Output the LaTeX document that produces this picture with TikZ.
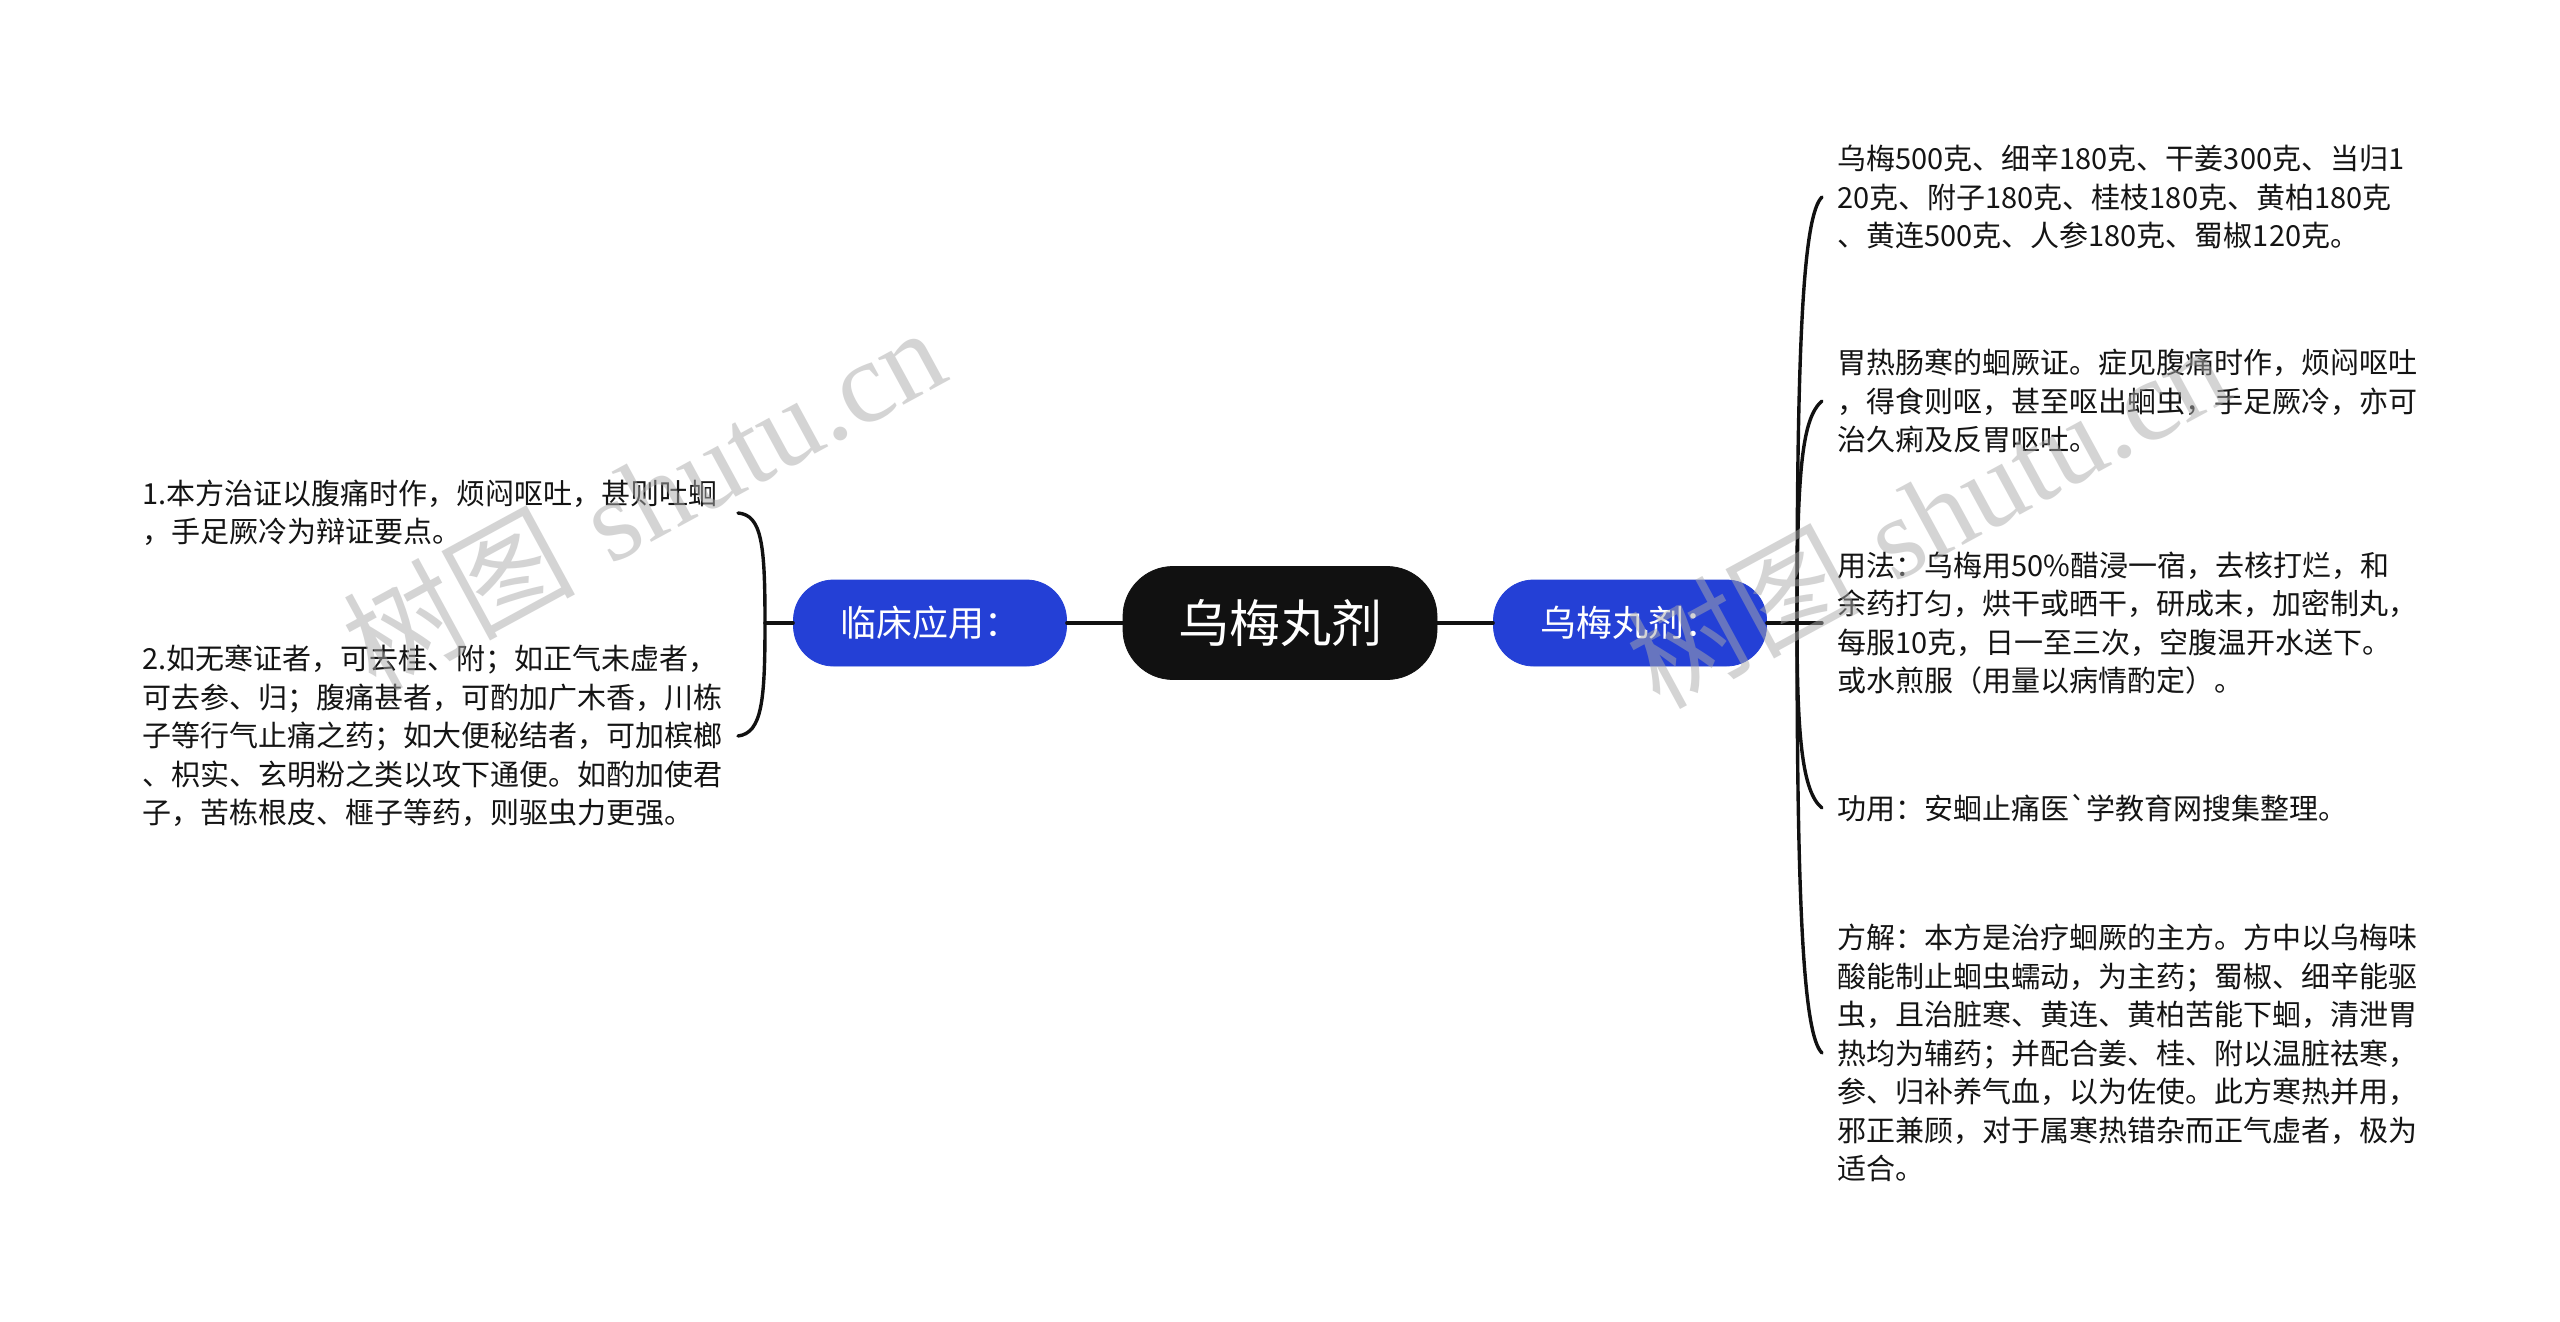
\documentclass[tikz,border=0pt]{standalone}
\usepackage{fontspec}
\newfontfamily\cjk{Noto Sans CJK SC}
\newfontfamily\wmserif{Liberation Serif}
\definecolor{bluenode}{RGB}{36,64,214}
\definecolor{darknode}{RGB}{17,17,17}
\definecolor{txt}{RGB}{20,20,20}
\definecolor{wmgray}{RGB}{170,170,170}
\tikzset{
  mainnode/.style={draw=darknode, fill=darknode, text=white, rounded corners=25pt,
    minimum width=157pt, minimum height=56.5pt, inner sep=0pt,
    font=\cjk\fontsize{25.5}{30}\selectfont},
  bluebox/.style={draw=bluenode, fill=bluenode, text=white, rounded corners=20pt,
    minimum width=136.5pt, minimum height=43pt, inner sep=0pt,
    font=\cjk\fontsize{18}{22}\selectfont},
  itemtext/.style={anchor=west, align=left, inner sep=0pt, text=txt,
    font=\cjk\fontsize{14.5}{19.25}\selectfont},
  conn/.style={line width=1.7pt, draw=darknode, line cap=round},
  watermark/.style={anchor=base, rotate=28.5, text=wmgray, text opacity=0.5, inner sep=0pt}
}
\begin{document}
\begin{tikzpicture}[x=0.5pt, y=-0.5pt]
\useasboundingbox (0,0) rectangle (2560,1322);
\fill[white] (0,0) rectangle (2560,1322);

% central and main branches
\node[mainnode] (c) at (1280,623) {乌梅丸剂};
\node[bluebox] (bl) at (930,623) {临床应用：};
\node[bluebox] (br) at (1630,623) {乌梅丸剂：};
\draw[conn] (c.west) -- (bl.east);
\draw[conn] (c.east) -- (br.west);

% right items
\node[itemtext] (r1) at (1837,197) {乌梅500克、细辛180克、干姜300克、当归1\\20克、附子180克、桂枝180克、黄柏180克\\、黄连500克、人参180克、蜀椒120克。};
\node[itemtext] (r2) at (1837,401) {胃热肠寒的蛔厥证。症见腹痛时作，烦闷呕吐\\，得食则呕，甚至呕出蛔虫，手足厥冷，亦可\\治久痢及反胃呕吐。};
\node[itemtext] (r3) at (1837,623) {用法：乌梅用50\%醋浸一宿，去核打烂，和\\余药打匀，烘干或晒干，研成末，加密制丸，\\每服10克，日一至三次，空腹温开水送下。\\或水煎服（用量以病情酌定）。};
\node[itemtext] (r4) at (1837,808) {功用：安蛔止痛医`学教育网搜集整理。};
\node[itemtext] (r5) at (1837,1053) {方解：本方是治疗蛔厥的主方。方中以乌梅味\\酸能制止蛔虫蠕动，为主药；蜀椒、细辛能驱\\虫，且治脏寒、黄连、黄柏苦能下蛔，清泄胃\\热均为辅药；并配合姜、桂、附以温脏祛寒，\\参、归补养气血，以为佐使。此方寒热并用，\\邪正兼顾，对于属寒热错杂而正气虚者，极为\\适合。};

% left items
\node[itemtext] (l1) at (142,513) {1.本方治证以腹痛时作，烦闷呕吐，甚则吐蛔\\，手足厥冷为辩证要点。};
\node[itemtext] (l2) at (142,736) {2.如无寒证者，可去桂、附；如正气未虚者，\\可去参、归；腹痛甚者，可酌加广木香，川栋\\子等行气止痛之药；如大便秘结者，可加槟榔\\、枳实、玄明粉之类以攻下通便。如酌加使君\\子，苦栋根皮、榧子等药，则驱虫力更强。};

% right bracket
\coordinate (rj) at (1797,623);
\coordinate (r1e) at (1822,197);
\coordinate (r2e) at (1822,401);
\coordinate (r3e) at (1822,623);
\coordinate (r4e) at (1822,808);
\coordinate (r5e) at (1822,1053);
\draw[conn] (br.east) -- (r3e);
\draw[conn] (rj) .. controls (1797,345) and (1803,215) .. (r1e);
\draw[conn] (rj) .. controls (1797,470) and (1802,418) .. (r2e);
\draw[conn] (rj) .. controls (1797,735) and (1802,792) .. (r4e);
\draw[conn] (rj) .. controls (1797,900) and (1803,1035) .. (r5e);

% left bracket
\coordinate (lj) at (765,623);
\coordinate (l1e) at (738,513);
\coordinate (l2e) at (738,736);
\draw[conn] (bl.west) -- (lj);
\draw[conn] (lj) .. controls (765,545) and (762,515) .. (l1e);
\draw[conn] (lj) .. controls (765,701) and (762,733) .. (l2e);

% watermarks
\node[watermark] (wm1) at (664,536) {\fontsize{58}{66}\selectfont{\cjk 树图} {\wmserif shutu.cn}};
\node[watermark] (wm2) at (1948,554) {\fontsize{58}{66}\selectfont{\cjk 树图} {\wmserif shutu.cn}};
\end{tikzpicture}
\end{document}
